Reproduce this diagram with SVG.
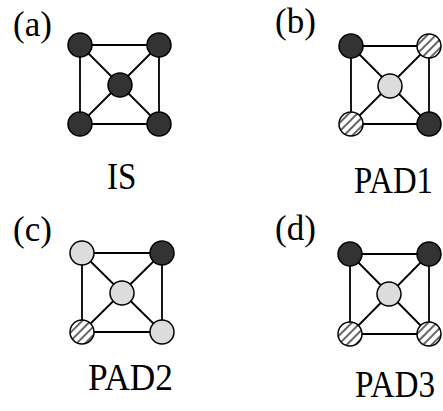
<svg xmlns="http://www.w3.org/2000/svg" width="443" height="411" viewBox="0 0 443 411">
<defs>
<pattern id="hatch" patternUnits="userSpaceOnUse" width="6" height="6" patternTransform="rotate(45)">
<rect width="6" height="6" fill="#ffffff"/>
<line x1="3" y1="0" x2="3" y2="6" stroke="#000" stroke-width="1.2"/>
</pattern>
</defs>
<style>
.edge{stroke:#000;stroke-width:1.8;fill:none}
.n{stroke:#000;stroke-width:1.5}
.dark{fill:#333333}
.light{fill:#dcdcdc}
.hatch{fill:url(#hatch)}
.t{font-family:"Liberation Serif","Times New Roman",serif;fill:#000}
.lab{font-size:35px}
.cap{font-size:33px}
</style>
<rect width="443" height="411" fill="#ffffff"/>
<g id="connectors">
<path class="edge" d="M80,45H159V124H80Z M80,45L159,124 M159,45L80,124"/>
<path class="edge" d="M351,46H429V124H351Z M351,46L429,124 M429,46L351,124"/>
<path class="edge" d="M82,253H162V332H82Z M82,253L162,332 M162,253L82,332"/>
<path class="edge" d="M350,254H429V334H350Z M350,254L429,334 M429,254L350,334"/>
</g>
<g id="panel-a">
<text class="t lab" x="13" y="36">(a)</text>
<g id="a-tl"><circle class="n dark" cx="80" cy="45" r="12"/></g>
<g id="a-tr"><circle class="n dark" cx="159" cy="45" r="12"/></g>
<g id="a-c"><circle class="n dark" cx="120" cy="85" r="12"/></g>
<g id="a-bl"><circle class="n dark" cx="80" cy="124" r="12"/></g>
<g id="a-br"><circle class="n dark" cx="159" cy="124" r="12"/></g>
<text class="t cap" transform="translate(107,189) scale(1,1.15)" x="0" y="0">IS</text>
</g>
<g id="panel-b">
<text class="t lab" x="275" y="33">(b)</text>
<g id="b-tl"><circle class="n dark" cx="351" cy="46" r="12"/></g>
<g id="b-tr"><circle class="n hatch" cx="429" cy="46" r="12"/></g>
<g id="b-c"><circle class="n light" cx="390" cy="86" r="12"/></g>
<g id="b-bl"><circle class="n hatch" cx="351" cy="124" r="12"/></g>
<g id="b-br"><circle class="n dark" cx="429" cy="124" r="12"/></g>
<text class="t cap" transform="translate(354,193) scale(1,1.15)" x="0" y="0" textLength="79" lengthAdjust="spacingAndGlyphs">PAD1</text>
</g>
<g id="panel-c">
<text class="t lab" x="13" y="241">(c)</text>
<g id="c-tl"><circle class="n light" cx="82" cy="253" r="12"/></g>
<g id="c-tr"><circle class="n dark" cx="162" cy="253" r="12"/></g>
<g id="c-c"><circle class="n light" cx="122" cy="293" r="12"/></g>
<g id="c-bl"><circle class="n hatch" cx="82" cy="332" r="12"/></g>
<g id="c-br"><circle class="n light" cx="162" cy="332" r="12"/></g>
<text class="t cap" transform="translate(88,390) scale(1,1.15)" x="0" y="0" textLength="85" lengthAdjust="spacingAndGlyphs">PAD2</text>
</g>
<g id="panel-d">
<text class="t lab" x="275" y="240">(d)</text>
<g id="d-tl"><circle class="n dark" cx="350" cy="254" r="12"/></g>
<g id="d-tr"><circle class="n dark" cx="429" cy="254" r="12"/></g>
<g id="d-c"><circle class="n light" cx="389" cy="294" r="12"/></g>
<g id="d-bl"><circle class="n hatch" cx="350" cy="334" r="12"/></g>
<g id="d-br"><circle class="n hatch" cx="429" cy="334" r="12"/></g>
<text class="t cap" transform="translate(355,397) scale(1,1.15)" x="0" y="0" textLength="80" lengthAdjust="spacingAndGlyphs">PAD3</text>
</g>
</svg>
